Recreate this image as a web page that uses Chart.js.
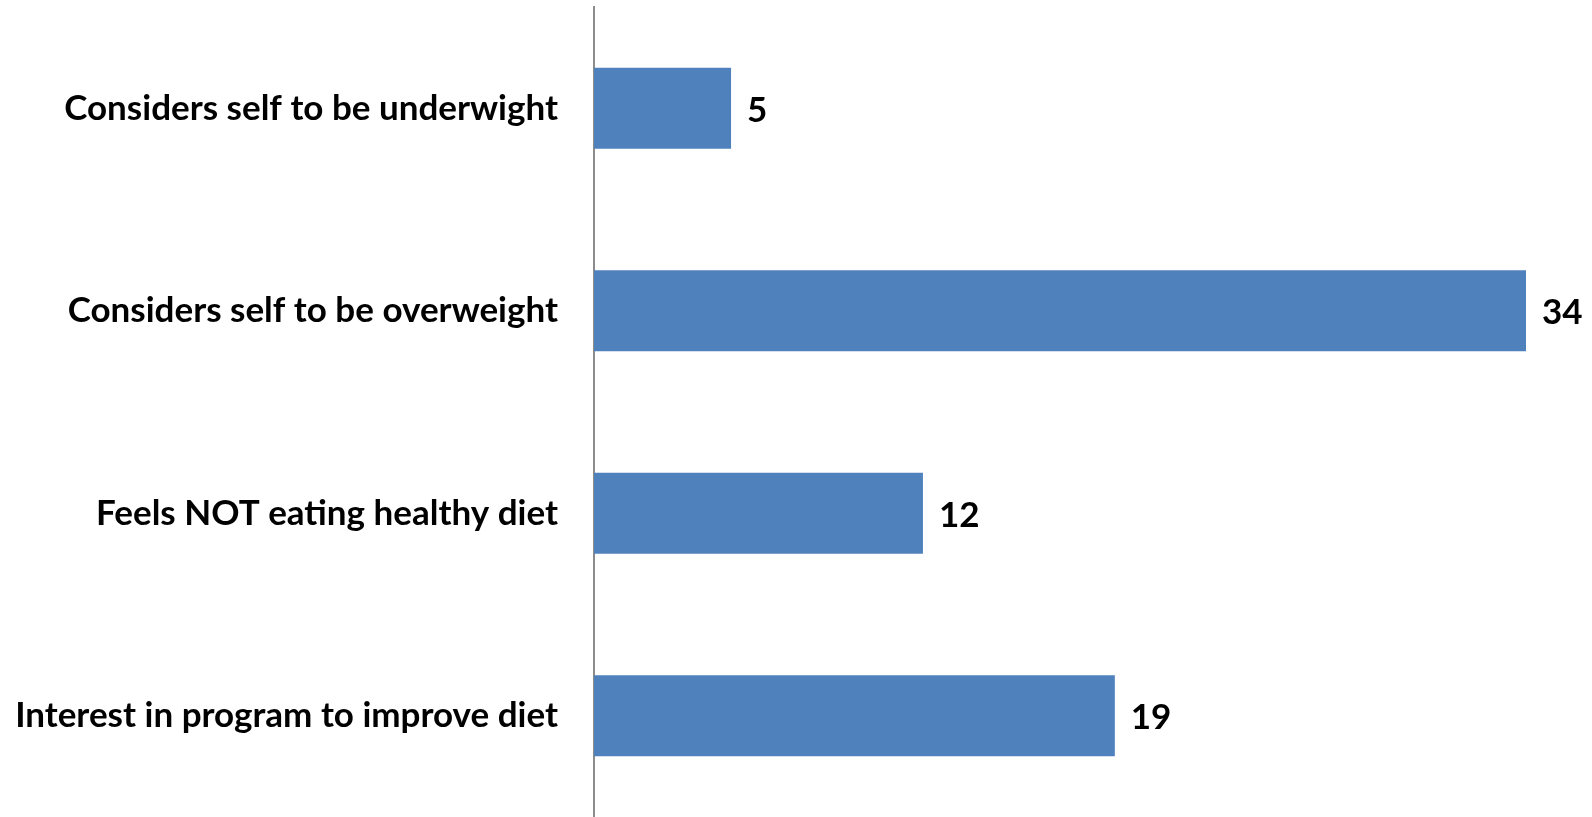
<!DOCTYPE html>
<html>
<head>
<meta charset="utf-8">
<script src="https://cdn.jsdelivr.net/npm/chart.js@4.4.0/dist/chart.umd.min.js"></script>
<style>
  html, body { margin: 0; padding: 0; background: #fff; }
  canvas { display: block; }
</style>
</head>
<body>
<canvas id="myChart" width="1592" height="817"></canvas>
<script>
// data
var categories = [
  "Considers self to be underwight",
  "Considers self to be overweight",
  "Feels NOT eating healthy diet",
  "Interest in program to improve diet"
];
var values = [5, 34, 12, 19];

var labelFont = { family: "Lato", weight: "bold", size: 35 };

// draws the number next to each bar
var valueLabels = {
  id: 'valueLabels',
  afterDatasetsDraw: function(chart) {
    var ctx = chart.ctx;
    var meta = chart.getDatasetMeta(0);
    ctx.save();
    ctx.fillStyle = '#000';
    ctx.font = 'bold 35px Lato';
    ctx.textAlign = 'left';
    ctx.textBaseline = 'middle';
    meta.data.forEach(function(bar, i) {
      ctx.fillText(values[i], bar.x + 16, bar.y + 2);
    });
    ctx.restore();
  }
};

new Chart(document.getElementById("myChart"), {
  type: 'bar',
  data: {
    labels: categories,
    datasets: [
      {
        data: values,
        backgroundColor: "#4F81BD",
        categoryPercentage: 1.0,
        barPercentage: 0.4
      }
    ]
  },
  options: {
    indexAxis: 'y',
    responsive: false,
    animation: false,
    layout: { padding: { top: 7, right: 66, bottom: -5, left: 0 } },
    plugins: {
      legend: { display: false },
      tooltip: { enabled: false }
    },
    scales: {
      x: {
        display: false,
        min: 0,
        max: 34
      },
      y: {
        grid: { display: false, drawTicks: false },
        border: { display: true, color: '#8c8c8c', width: 2 },
        ticks: {
          color: '#000',
          font: labelFont,
          padding: 36
        },
        afterFit: function(scale) {
          scale.width = 594;
          scale.paddingTop = 0;
          scale.paddingBottom = 0;
        }
      }
    }
  },
  plugins: [valueLabels]
});
</script>
</body>
</html>
